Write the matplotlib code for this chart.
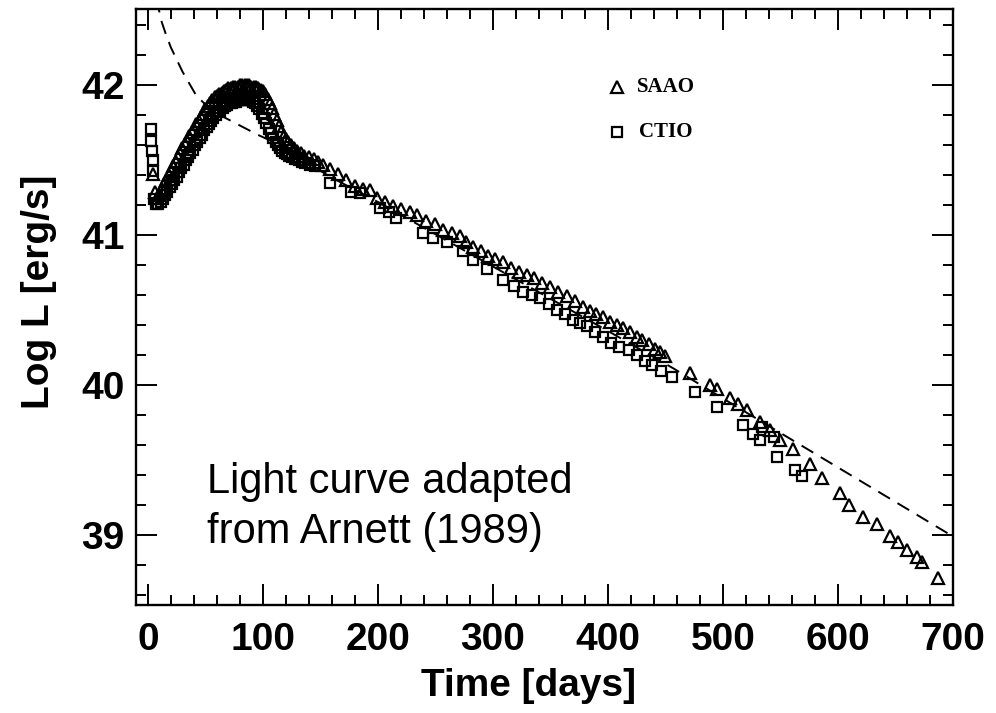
import matplotlib.pyplot as plt
from matplotlib.ticker import MultipleLocator

# SN 1987A bolometric light curve
saao_day = [4, 6, 8, 10, 12, 14, 16, 18, 20, 22, 24, 26, 28, 30, 32, 34, 36, 38,
            40, 42, 44, 46, 48, 50, 52, 54, 56, 58, 60, 62, 64, 66, 68, 70, 72, 74,
            76, 78, 80, 82, 84, 86, 88, 90, 92, 94, 96, 98, 100, 102, 104, 106, 108,
            110, 112, 114, 116, 118, 120, 122, 124, 127, 130, 133, 136, 140, 144, 148,
            152, 158, 165, 172, 180, 187, 193, 199, 206, 213, 220, 228, 234, 242, 250,
            257, 264, 271, 277, 283, 290, 296, 302, 309, 316, 323, 330, 336, 343, 350,
            357, 364, 371, 378, 384, 390, 396, 402, 408, 413, 419, 425, 430, 436, 441,
            445, 450, 471, 489, 495, 506, 513, 521, 532, 541, 550, 561, 576, 586, 602,
            610, 622, 634, 645, 652, 660, 669, 673, 687]
saao_logl = [41.41, 41.29, 41.25, 41.27, 41.31, 41.34, 41.37, 41.40, 41.43, 41.46,
             41.49, 41.52, 41.55, 41.58, 41.61, 41.63, 41.66, 41.69, 41.71, 41.74,
             41.76, 41.79, 41.81, 41.84, 41.86, 41.88, 41.90, 41.92, 41.93, 41.94,
             41.95, 41.96, 41.97, 41.98, 41.98, 41.99, 41.99, 41.99, 42.00, 42.00,
             42.00, 42.00, 42.00, 41.99, 41.99, 41.99, 41.98, 41.97, 41.96, 41.94,
             41.91, 41.88, 41.85, 41.81, 41.77, 41.73, 41.69, 41.66, 41.64, 41.62,
             41.60, 41.58, 41.56, 41.55, 41.53, 41.52, 41.51, 41.49,
             41.47, 41.44, 41.41, 41.37, 41.33, 41.31, 41.30, 41.25, 41.22, 41.19,
             41.17, 41.15, 41.13, 41.09, 41.07, 41.03, 41.01, 40.99, 40.95, 40.92,
             40.89, 40.86, 40.84, 40.82, 40.78, 40.75, 40.73, 40.71, 40.68, 40.65,
             40.62, 40.59, 40.56, 40.52, 40.49, 40.47, 40.45, 40.42, 40.40, 40.38,
             40.35, 40.32, 40.30, 40.27, 40.24, 40.22, 40.19, 40.08, 40.00, 39.97,
             39.91, 39.87, 39.83, 39.75, 39.70, 39.63, 39.57, 39.47, 39.38, 39.28,
             39.20, 39.12, 39.07, 38.99, 38.95, 38.90, 38.85, 38.82, 38.71]

ctio_day = [3, 3, 3.5, 4, 4.5, 5, 7, 9, 11, 13, 15, 17, 19, 21, 23, 25, 27, 29, 31,
            33, 35, 37, 39, 41, 43, 45, 47, 49, 51, 53, 55, 57, 59, 61, 63, 65, 67,
            69, 71, 73, 75, 77, 79, 81, 83, 85, 87, 89, 91, 93, 95, 97, 99, 101, 103,
            105, 107, 109, 111, 113, 115, 117, 119, 121, 123, 125, 128, 131, 134, 137,
            141, 145,
            158, 177, 184, 202, 210, 216, 239, 248, 260, 274, 283, 295, 309, 318, 326,
            334, 341, 349, 356, 363, 370, 376, 382, 389, 396, 403, 410, 418, 425, 432,
            438, 446, 456, 476, 495, 517, 526, 534, 532, 544, 547, 563, 569]
ctio_logl = [41.71, 41.63, 41.56, 41.50, 41.43, 41.24, 41.21, 41.21, 41.22, 41.24,
             41.27, 41.29, 41.32, 41.34, 41.37, 41.39, 41.42, 41.45, 41.47, 41.50,
             41.52, 41.55, 41.57, 41.60, 41.62, 41.65, 41.67, 41.70, 41.72, 41.74,
             41.76, 41.78, 41.80, 41.82, 41.83, 41.85, 41.86, 41.87, 41.88, 41.88,
             41.89, 41.89, 41.90, 41.90, 41.90, 41.90, 41.90, 41.90, 41.89, 41.88,
             41.86, 41.84, 41.81, 41.78, 41.75, 41.71, 41.68, 41.65, 41.62, 41.60,
             41.58, 41.56, 41.55, 41.54, 41.53, 41.52, 41.51, 41.50, 41.49, 41.48,
             41.47, 41.46,
             41.35, 41.29, 41.28, 41.18, 41.15, 41.11, 41.01, 40.98, 40.95, 40.89,
             40.83, 40.77, 40.70, 40.66, 40.62, 40.60, 40.58, 40.54, 40.50, 40.47,
             40.43, 40.41, 40.39, 40.35, 40.32, 40.28, 40.25, 40.23, 40.20, 40.16,
             40.13, 40.09, 40.05, 39.95, 39.85, 39.73, 39.67, 39.72, 39.63, 39.65,
             39.52, 39.43, 39.39]

# dashed model curve
model_day = [5, 9, 12, 16, 20, 25, 30, 36, 42, 50, 60, 70, 80, 95, 112, 158,
             200, 300, 400, 457, 500, 600, 700]
model_logl = [42.80, 42.52, 42.42, 42.33, 42.25, 42.17, 42.09, 42.01, 41.93, 41.87,
              41.81, 41.77, 41.73, 41.67, 41.61, 41.39, 41.22, 40.79, 40.36, 40.11,
              39.91, 39.45, 38.99]

x_ticks = [0, 100, 200, 300, 400, 500, 600, 700]
y_ticks = [39, 40, 41, 42]

plt.rcParams['font.family'] = ['Liberation Sans', 'DejaVu Sans']

fig = plt.figure(figsize=(9.96, 7.13), dpi=100)
ax = fig.add_axes([0.1365, 0.1515, 0.8203, 0.8359])

ax.plot(model_day, model_logl, color='black', lw=1.4, dashes=(7, 4.5))
ax.plot(saao_day, saao_logl, ls='none', marker='^', ms=9, mfc='none',
        mec='black', mew=1.6)
ax.plot(ctio_day, ctio_logl, ls='none', marker='s', ms=7.5, mfc='none',
        mec='black', mew=1.6)

ax.set_xlim(-10.4, 700)
ax.set_ylim(38.533, 42.507)

ax.set_xticks(x_ticks)
ax.set_xticklabels([str(t) for t in x_ticks], fontsize=28, fontweight='bold')
ax.set_yticks(y_ticks)
ax.set_yticklabels([str(t) for t in y_ticks], fontsize=28, fontweight='bold')
ax.xaxis.set_minor_locator(MultipleLocator(20))
ax.yaxis.set_minor_locator(MultipleLocator(0.2))
ax.tick_params(which='both', direction='in', top=True, right=True, width=1.4)
ax.tick_params(which='major', length=15)
ax.tick_params(which='minor', length=7)
ax.tick_params(axis='x', which='major', pad=12)
ax.tick_params(axis='y', which='major', pad=8)
for sp in ax.spines.values():
    sp.set_linewidth(1.7)

ax.set_xlabel('Time [days]', fontsize=28, fontweight='bold')
ax.set_ylabel('Log L [erg/s]', fontsize=28, fontweight='bold')
ax.xaxis.set_label_coords(0.481, -0.106)
ax.yaxis.set_label_coords(-0.097, 0.525)

# legend drawn by hand, like the scanned original
ax.plot([0.589], [0.869], marker='^', ms=8, mfc='none', mec='black', mew=1.6,
        transform=ax.transAxes)
ax.plot([0.589], [0.794], marker='s', ms=7.5, mfc='none', mec='black', mew=1.6,
        transform=ax.transAxes)
ax.text(0.613, 0.869, 'SAAO', transform=ax.transAxes, va='center', ha='left',
        fontsize=15, fontweight='bold', family=['Liberation Serif', 'DejaVu Serif'])
ax.text(0.616, 0.794, 'CTIO', transform=ax.transAxes, va='center', ha='left',
        fontsize=15, fontweight='bold', family=['Liberation Serif', 'DejaVu Serif'])

fig.text(207 / 996, 1 - 493 / 713, 'Light curve adapted', fontsize=30,
         va='baseline', ha='left')
fig.text(207 / 996, 1 - 543 / 713, 'from Arnett (1989)', fontsize=30,
         va='baseline', ha='left')

fig.savefig('out.png', dpi=100)
